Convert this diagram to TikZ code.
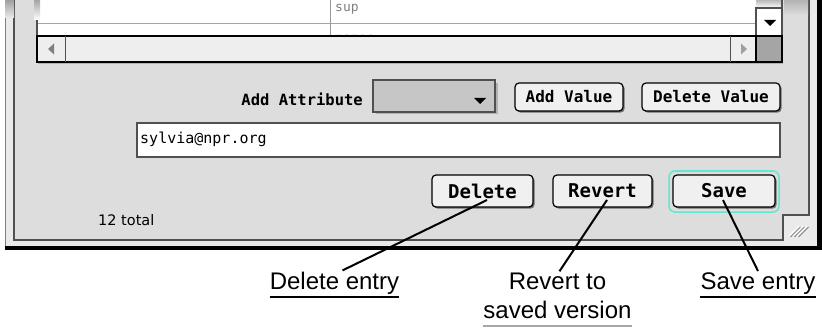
\documentclass[tikz,border=0pt]{standalone}
\usepackage{fontspec}
\setmainfont{Liberation Sans}
\newfontfamily\uimono{DejaVu Sans Mono}
\newfontfamily\uisans{DejaVu Sans}
\usetikzlibrary{calc}

\definecolor{winbg}{RGB}{221,221,221}
\definecolor{framebg}{RGB}{234,234,234}
\definecolor{edgegray}{RGB}{80,80,80}
\definecolor{btnface}{RGB}{240,240,240}
\definecolor{btnshadow}{RGB}{110,110,110}
\definecolor{barfill}{RGB}{238,238,238}
\definecolor{cornerfill}{RGB}{165,165,165}
\definecolor{popfill}{RGB}{198,198,198}
\definecolor{focusring}{RGB}{96,232,208}

\tikzset{
  uibtn/.style={draw=black, fill=btnface, line width=1.2pt, rounded corners=4pt,
    inner sep=0pt,
    preaction={fill=btnshadow, transform canvas={xshift=1.6pt, yshift=-1.6pt}}},
  smallbtn/.style={uibtn, minimum height=28pt, font=\uimono\bfseries\fontsize{16}{16}\selectfont},
  bigbtn/.style={uibtn, minimum height=32pt, font=\uimono\bfseries\fontsize{19}{19}\selectfont},
  callout/.style={inner sep=0pt, font=\fontsize{24}{24}\selectfont},
  pointer/.style={draw=black, line width=2pt},
  uline/.style={draw=black, line width=2pt},
}

\begin{document}
\begin{tikzpicture}[x=1pt, y=-1pt]
\useasboundingbox (0,0) rectangle (822,334);
\fill[white] (0,0) rectangle (822,334);

% window frame with its dark shadow edges
\fill[framebg] (5,0) rectangle (817,246);
\fill[black] (817,0) rectangle (822,250);
\fill[black] (5,246) rectangle (822,250);
\draw[gray, line width=1pt] (5.5,0) -- (5.5,246);

% content area, with the notch for the grow box
\filldraw[fill=winbg, draw=edgegray, line width=2pt]
  (14,-3) -- (14,240) -- (783,240) -- (783,215) -- (809,215) -- (809,-3);

% grow box ridges
\foreach \i in {0,1,2} {
  \draw[white, line width=1pt] ($(789,236)+(4*\i,0)$) -- ++(10,-10);
  \draw[gray, line width=1pt] ($(790.5,237)+(4*\i,0)$) -- ++(10,-10);
}

% faded top edges where the window continues
\shade[top color=gray!75, bottom color=framebg] (5,0) rectangle (14,18);
\shade[top color=gray!60, bottom color=winbg] (784,0) rectangle (808,15);

% list area
\fill[white] (37,0) rectangle (782,36);
\draw[gray!70, line width=1pt] (37,24) -- (756,24);
\draw[gray!80, line width=1pt] (330,0) -- (330,36);
\node[anchor=base west, inner sep=0pt, text=gray, font=\uimono\fontsize{13}{13}\selectfont] (colsup) at (335,12) {sup};
\node[anchor=base west, inner sep=0pt, text=gray!80!black, font=\uimono\fontsize{13}{13}\selectfont] (colnames) at (335,43) {names};
\draw[edgegray, line width=1.5pt] (37,0) -- (37,36);
\shade[top color=gray!70, bottom color=white] (34,0) rectangle (40,20);

% vertical scroll bar: down arrow
\shade[top color=gray!55, bottom color=white] (756,0) rectangle (782,8);
\draw[edgegray, line width=1.2pt] (756,8) rectangle (782,36);
\draw[edgegray, line width=1.2pt] (782,0) -- (782,36);
\fill[black] (764,20) -- (776,20) -- (770,26) -- cycle;

% horizontal scroll bar
\draw[gray!60, line width=1pt] (38,64) -- (783,64);
\filldraw[fill=barfill, draw=black, line width=2pt] (37,36) rectangle (756,62);
\draw[edgegray, line width=1pt] (65,36) -- (65,62);
\draw[edgegray, line width=1pt] (730,36) -- (730,62);
\fill[gray] (48,49) -- (54,43.5) -- (54,54.5) -- cycle;
\fill[gray!75] (747,49) -- (741,43.5) -- (741,54.5) -- cycle;
\filldraw[fill=cornerfill, draw=black, line width=2pt] (756,36) rectangle (782,62);

% attribute row
\node[anchor=base east, inner sep=0pt, font=\uimono\bfseries\fontsize{15.5}{15.5}\selectfont] (attrlbl) at (363,106) {Add Attribute};
\fill[gray!60] (376,83) rectangle (497.5,114.5);
\filldraw[fill=popfill, draw=edgegray, line width=1.5pt] (373,80) rectangle (495,112);
\fill[black] (474,98) -- (486,98) -- (480,104) -- cycle;
\node[smallbtn, minimum width=108pt] (addval) at (569,97) {Add Value};
\node[smallbtn, minimum width=138pt] (delval) at (711,97) {Delete Value};

% value field
\node[draw=edgegray, fill=white, line width=1.5pt, minimum width=643pt, minimum height=34pt, inner sep=0pt] (field) at (458.5,140) {};
\node[anchor=base west, inner sep=0pt, font=\uimono\fontsize{15}{15}\selectfont] (fieldtxt) at (140,144) {sylvia@npr.org};

% bottom row
\node[anchor=base west, inner sep=0pt, font=\uisans\fontsize{14.5}{14.5}\selectfont] (count) at (98,225) {12 total};
\draw[focusring, line width=1.5pt, rounded corners=6pt] (669,171) rectangle (779,212);
\node[bigbtn, minimum width=101pt] (delbtn) at (482.5,191) {Delete};
\node[bigbtn, minimum width=99pt] (revbtn) at (602.5,191) {Revert};
\node[bigbtn, minimum width=102pt] (savbtn) at (724,191) {Save};

% callout labels
\node[callout, anchor=base] (dellbl) at (334.5,289) {Delete entry};
\node[callout, anchor=base] (revlbl) at (557.5,289) {Revert to};
\node[callout, anchor=base] (revlbl2) at (557.5,318) {saved version};
\node[callout, anchor=base] (savlbl) at (758,289) {Save entry};

\draw[uline] ([yshift=-8pt]dellbl.base west) -- ([yshift=-8pt]dellbl.base east);
\draw[draw=gray!70, line width=1.5pt] ([yshift=-8pt]revlbl2.base west) -- ([yshift=-8pt]revlbl2.base east);
\draw[uline] ([yshift=-8pt]savlbl.base west) -- ([yshift=-8pt]savlbl.base east);

% pointers from buttons to labels
\coordinate (delpt) at ($(delbtn.center)+(4.5,9)$);
\coordinate (revpt) at ($(revbtn.center)+(4.5,9)$);
\coordinate (savpt) at ($(savbtn.center)+(-1,9)$);
\draw[pointer] (delpt) -- ([xshift=8pt, yshift=1pt]dellbl.north);
\draw[pointer] (revpt) -- ([xshift=2pt, yshift=1pt]revlbl.north);
\draw[pointer] (savpt) -- ([yshift=1pt]savlbl.north);
\end{tikzpicture}
\end{document}
